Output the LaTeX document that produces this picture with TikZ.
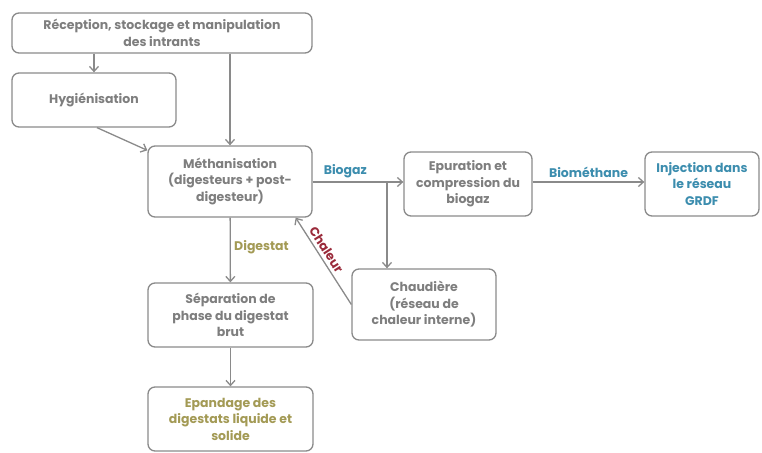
\documentclass[tikz,border=0pt]{standalone}
\usepackage{fontspec}
\setmainfont{Poppins}
\usetikzlibrary{arrows.meta}

\definecolor{boxgray}{HTML}{8A8A8A}
\definecolor{txtgray}{HTML}{7E7E7E}
\definecolor{gazblue}{HTML}{3C8DAE}
\definecolor{digolive}{HTML}{A39A55}
\definecolor{heatred}{HTML}{9A2A3A}

\begin{document}
\begin{tikzpicture}[x=1pt,y=-1pt,
    box/.style={draw=boxgray,line width=1.3pt,rounded corners=7pt,align=center,
        text=txtgray,font=\fontsize{12.5}{16.5}\selectfont\bfseries,inner sep=2pt},
    arr/.style={draw=boxgray,line width=1.3pt,-{Straight Barb[length=5pt,width=9pt]}},
    lbl/.style={font=\fontsize{12.5}{15}\selectfont\bfseries}]
  \useasboundingbox (0,0) rectangle (762,452);
  \path
    (162,33)    node[box,minimum width=300pt,minimum height=40pt](recep) {Réception, stockage et manipulation\\des intrants}
    (94,100)    node[box,minimum width=164pt,minimum height=54pt](hyg) {Hygiénisation}
    (230,181.5) node[box,minimum width=164pt,minimum height=71pt](meth) {Méthanisation\\(digesteurs + post-\\digesteur)}
    (468,184)   node[box,minimum width=128pt,minimum height=64pt](epur) {Epuration et\\compression du\\biogaz}
    (702,184)   node[box,minimum width=114pt,minimum height=64pt,text=gazblue](inj) {Injection dans\\le réseau\\GRDF}
    (230.5,315) node[box,minimum width=165pt,minimum height=64pt](sep) {Séparation de\\phase du digestat\\brut}
    (230.5,419) node[box,minimum width=165pt,minimum height=64pt,text=digolive](epand) {Epandage des\\digestats liquide et\\solide}
    (424,304.5) node[box,minimum width=144pt,minimum height=71pt](chaud) {Chaudière\\(réseau de\\chaleur interne)};

  \coordinate (br) at (387,182);

  \draw[arr] (recep.south -| hyg) -- (hyg);
  \draw[arr] (recep.south -| meth) -- (meth);
  \draw[arr] ([xshift=3pt]hyg.south) -- ([yshift=-5pt]meth.north west);
  \draw[arr] (meth.east |- br) -- node[lbl,above,pos=.36,text=gazblue] {Biogaz} (epur.west |- br);
  \draw[arr] (br) -- (br |- chaud.north);
  \draw[arr] (epur.east |- br) -- node[lbl,above,text=gazblue] {Biométhane} (inj.west |- br);
  \draw[arr] (meth) -- node[lbl,right,pos=.45,text=digolive] {Digestat} (sep);
  \draw[arr] (sep) -- (epand);
  \draw[arr] (chaud.west) -- node[lbl,sloped,above,pos=.58,text=heatred] {Chaleur} ([xshift=-17pt]meth.south east);
\end{tikzpicture}
\end{document}
